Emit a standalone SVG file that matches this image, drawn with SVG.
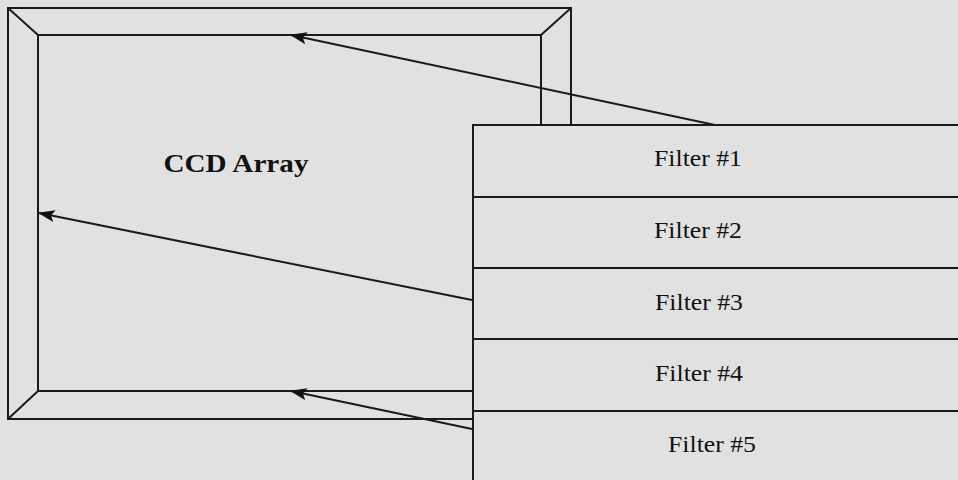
<svg xmlns="http://www.w3.org/2000/svg" width="958" height="480" viewBox="0 0 958 480">
<style>
.ln{stroke:#1a1a1a;stroke-width:2;fill:none}
.t{font-family:"Liberation Serif","Times New Roman",serif;font-size:24px;fill:#111;text-anchor:middle}
.b{font-weight:bold;font-size:26px}
</style>
<defs>
<marker id="a" viewBox="0 0 14 10" refX="13" refY="5" markerWidth="17" markerHeight="13" orient="auto" markerUnits="userSpaceOnUse">
<path d="M0,0 L14,5 L0,10 L3,5 z" fill="#111"/>
</marker>
</defs>
<rect width="958" height="480" fill="#e1e1e1"/>
<g id="ccd">
<path class="ln" d="M473,419 L8,419 L8,8 L571,8 L571,125"/>
<path class="ln" d="M473,391 L38,391 L38,35 L541,35 L541,125"/>
<path class="ln" d="M8,8 L38,35 M571,8 L541,35 M8,419 L38,391"/>
<text class="t b" x="236" y="172" textLength="145" lengthAdjust="spacingAndGlyphs">CCD Array</text>
</g>
<g id="filters">
<path class="ln" d="M958,125 L473,125 L473,480"/>
<path class="ln" d="M473,197 L958,197 M473,268 L958,268 M473,339 L958,339 M473,411 L958,411"/>
<text class="t" x="698" y="166" textLength="88" lengthAdjust="spacingAndGlyphs">Filter #1</text>
<text class="t" x="698" y="238" textLength="88" lengthAdjust="spacingAndGlyphs">Filter #2</text>
<text class="t" x="699" y="310" textLength="88" lengthAdjust="spacingAndGlyphs">Filter #3</text>
<text class="t" x="699" y="381" textLength="88" lengthAdjust="spacingAndGlyphs">Filter #4</text>
<text class="t" x="712" y="452" textLength="88" lengthAdjust="spacingAndGlyphs">Filter #5</text>
</g>
<g id="connectors">
<line class="ln" x1="715" y1="125" x2="291" y2="35" marker-end="url(#a)"/>
<line class="ln" x1="472" y1="300" x2="39" y2="213" marker-end="url(#a)"/>
<line class="ln" x1="472" y1="429" x2="291" y2="391" marker-end="url(#a)"/>
</g>
</svg>
